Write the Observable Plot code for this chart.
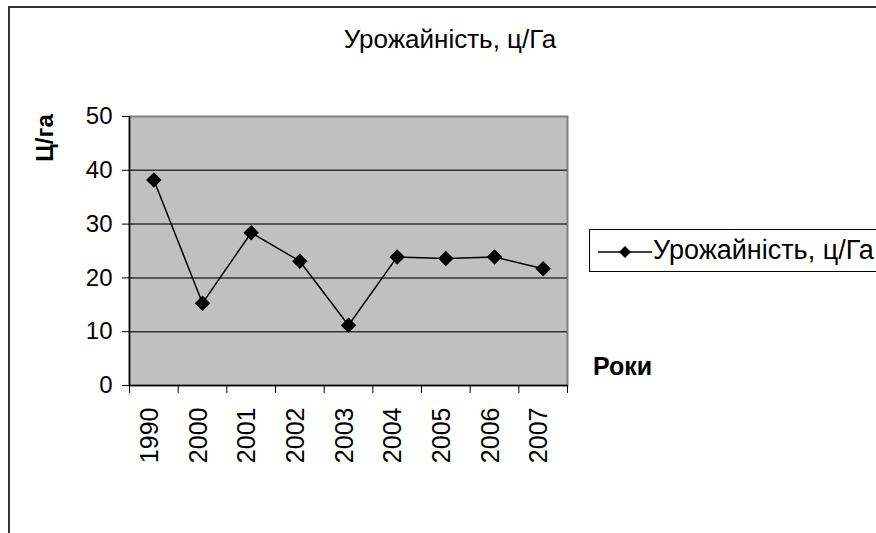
<!DOCTYPE html>
<html>
<head>
<meta charset="utf-8">
<script src="https://cdn.jsdelivr.net/npm/d3@7"></script>
<script src="https://cdn.jsdelivr.net/npm/@observablehq/plot@0.6"></script>
<style>
  html, body { margin: 0; padding: 0; background: #fff; }
  #wrap { position: relative; width: 876px; height: 533px; overflow: hidden; font-family: "Liberation Sans", Arial, sans-serif; }
  #wrap svg.plot { position: absolute; left: 0; top: 0; }
  .border { position: absolute; left: 8px; top: 6px; width: 900px; height: 600px; border: 2px solid #333; box-sizing: border-box; }
  .title { position: absolute; left: 0; width: 900px; text-align: center; top: 24px; font-size: 26px; color: #000; }
  .ytitle { position: absolute; left: 45px; top: 138px; transform: translate(-50%, -50%) rotate(-90deg); font-size: 24px; font-weight: bold; white-space: nowrap; }
  .xtitle { position: absolute; left: 593px; top: 352px; font-size: 25px; font-weight: bold; }
  .legend { position: absolute; left: 589px; top: 229px; width: 320px; height: 43px; border: 1px solid #000; box-sizing: border-box; background: #fff; }
  .legend svg { position: absolute; left: 8px; top: 10px; }
  .legend span { position: absolute; left: 63px; top: 5px; font-size: 27px; white-space: nowrap; }
</style>
</head>
<body>
<div id="wrap">
  <div class="border"></div>
</div>
<script>
const years = ["1990", "2000", "2001", "2002", "2003", "2004", "2005", "2006", "2007"];
const yields = [38.2, 15.3, 28.4, 23.1, 11.2, 23.9, 23.6, 23.9, 21.7];
const yTicks = [0, 10, 20, 30, 40, 50];
const gridValues = [10, 20, 30, 40];
const titleText = "Урожайність, ц/Га";
const seriesName = "Урожайність, ц/Га";
const yTitle = "Ц/га";
const xTitle = "Роки";

const data = years.map((y, i) => ({year: y, pos: i + 0.5, value: yields[i]}));
const boundaries = d3.range(years.length + 1);
const centers = years.map((y, i) => i + 0.5);

const chart = Plot.plot({
  width: 876,
  height: 533,
  marginLeft: 129,
  marginRight: 309,
  marginTop: 116,
  marginBottom: 148,
  style: {fontFamily: "Liberation Sans, Arial, sans-serif", background: "transparent", overflow: "visible"},
  x: {type: "linear", domain: [0, years.length]},
  y: {domain: [0, 50]},
  marks: [
    Plot.frame({fill: "#c0c0c0", stroke: "#808080", strokeWidth: 2}),
    Plot.ruleY(gridValues, {stroke: "#333", strokeWidth: 1.5}),
    Plot.axisY({ticks: yTicks, tickSize: 7, tickPadding: 10, fontSize: 24, label: null, stroke: "#000", color: "#000"}),
    Plot.axisX({ticks: boundaries, tickSize: 8, tickFormat: () => "", label: null}),
    Plot.axisX({ticks: centers, tickSize: 0, tickPadding: 22, tickRotate: -90, fontSize: 25, dx: -4,
                tickFormat: d => years[Math.round(d - 0.5)], label: null, color: "#000"}),
    Plot.ruleX([0], {stroke: "#000", strokeWidth: 1.5}),
    Plot.ruleY([0], {stroke: "#000", strokeWidth: 1.5}),
    Plot.line(data, {x: "pos", y: "value", stroke: "#000", strokeWidth: 1.5}),
    Plot.dot(data, {x: "pos", y: "value", symbol: "diamond2", r: 6, fill: "#000", stroke: "#000"})
  ]
});
chart.classList.add("plot");
const wrap = document.getElementById("wrap");
wrap.appendChild(chart);

function addDiv(cls, text) {
  const d = document.createElement("div");
  d.className = cls;
  if (text) d.textContent = text;
  wrap.appendChild(d);
  return d;
}
addDiv("title", titleText);
addDiv("ytitle", yTitle);
addDiv("xtitle", xTitle);
const leg = addDiv("legend");
leg.innerHTML = `<svg width="56" height="22"><line x1="0" x2="54" y1="12" y2="12" stroke="#000" stroke-width="1.5"/><path d="M27,6 L33,12 L27,18 L21,12 Z" fill="#000"/></svg>`;
const sp = document.createElement("span");
sp.textContent = seriesName;
leg.appendChild(sp);
</script>
</body>
</html>
